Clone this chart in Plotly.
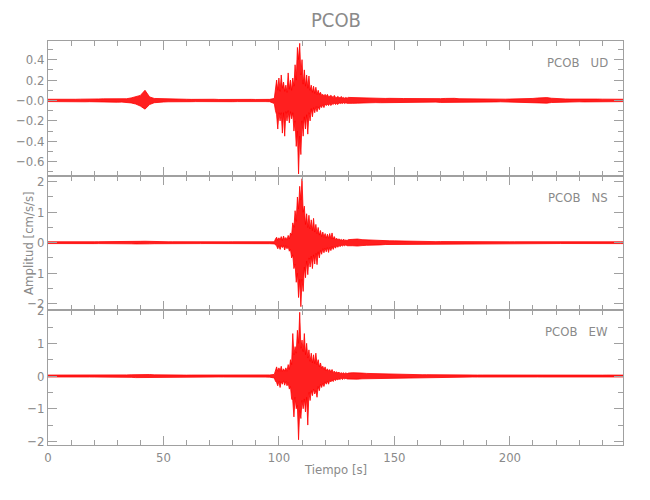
import numpy as np
import plotly.graph_objects as go
from plotly.subplots import make_subplots

# ---------------- data ----------------
STATION = "PCOB"
COMPONENTS = ["UD", "NS", "EW"]

# sample times (s) of the envelope readings: pre-event every 2 s,
# event window every 0.5 s, coda every 2 s
T_PRE = np.arange(0.0, 98.0, 2.0)      # 49 samples
T_EVENT = np.arange(98.0, 130.0, 0.5)  # 64 samples
T_CODA = np.arange(130.0, 251.0, 2.0)  # 61 samples

# upper (max) and lower (min) envelope of each record
UD_PRE_MAX = [0.012, 0.011, 0.012, 0.010, 0.013, 0.011, 0.012, 0.013, 0.012, 0.011,
              0.014, 0.015, 0.016, 0.015, 0.017, 0.016, 0.018, 0.017, 0.025, 0.040,
              0.050, 0.100, 0.035, 0.020, 0.018, 0.015, 0.014, 0.013, 0.012, 0.013,
              0.012, 0.011, 0.012, 0.011, 0.012, 0.011, 0.012, 0.010, 0.011, 0.012,
              0.011, 0.010, 0.011, 0.012, 0.011, 0.010, 0.011, 0.012, 0.011]
UD_PRE_MIN = [-0.011, -0.012, -0.010, -0.012, -0.011, -0.013, -0.011, -0.012, -0.013, -0.012,
              -0.013, -0.015, -0.014, -0.016, -0.015, -0.017, -0.016, -0.018, -0.024, -0.035,
              -0.055, -0.085, -0.040, -0.022, -0.017, -0.015, -0.013, -0.014, -0.012, -0.012,
              -0.011, -0.012, -0.011, -0.012, -0.010, -0.012, -0.011, -0.012, -0.010, -0.011,
              -0.012, -0.011, -0.010, -0.011, -0.012, -0.011, -0.010, -0.011, -0.012]
UD_EVENT_MAX = [0.02, 0.15, 0.20, 0.10, 0.22, 0.09, 0.25, 0.12, 0.18, 0.09,
                0.15, 0.08, 0.27, 0.11, 0.20, 0.10, 0.22, 0.14, 0.35, 0.20,
                0.52, 0.40, 0.56, 0.25, 0.40, 0.16, 0.30, 0.14, 0.25, 0.12,
                0.24, 0.10, 0.15, 0.08, 0.14, 0.07, 0.13, 0.06, 0.10, 0.06,
                0.08, 0.05, 0.06, 0.045, 0.06, 0.04, 0.06, 0.035, 0.04, 0.05,
                0.04, 0.03, 0.05, 0.03, 0.03, 0.04, 0.03, 0.025, 0.04, 0.025,
                0.03, 0.022, 0.03, 0.022]
UD_EVENT_MIN = [-0.03, -0.10, -0.14, -0.28, -0.12, -0.20, -0.12, -0.32, -0.12, -0.35,
                -0.11, -0.20, -0.10, -0.22, -0.11, -0.18, -0.12, -0.30, -0.20, -0.45,
                -0.30, -0.72, -0.35, -0.53, -0.20, -0.35, -0.16, -0.28, -0.14, -0.33,
                -0.12, -0.20, -0.08, -0.16, -0.07, -0.12, -0.06, -0.11, -0.06, -0.09,
                -0.05, -0.07, -0.04, -0.07, -0.035, -0.05, -0.035, -0.05, -0.03, -0.05,
                -0.03, -0.04, -0.025, -0.04, -0.03, -0.04, -0.022, -0.03, -0.025, -0.03,
                -0.022, -0.03, -0.022, -0.028]
UD_CODA_MAX = [0.030, 0.028, 0.027, 0.025, 0.024, 0.022, 0.023, 0.021, 0.020, 0.021,
               0.024, 0.020, 0.019, 0.018, 0.018, 0.017, 0.017, 0.016, 0.016, 0.017,
               0.018, 0.020, 0.024, 0.021, 0.017, 0.016, 0.015, 0.015, 0.014, 0.015,
               0.014, 0.014, 0.013, 0.014, 0.013, 0.014, 0.014, 0.015, 0.016, 0.018,
               0.020, 0.024, 0.027, 0.028, 0.022, 0.018, 0.016, 0.015, 0.014, 0.015,
               0.014, 0.013, 0.014, 0.013, 0.014, 0.013, 0.013, 0.014, 0.013, 0.012,
               0.012]
UD_CODA_MIN = [-0.032, -0.028, -0.026, -0.027, -0.023, -0.024, -0.021, -0.022, -0.021, -0.019,
               -0.022, -0.021, -0.018, -0.019, -0.017, -0.018, -0.016, -0.017, -0.017, -0.016,
               -0.019, -0.022, -0.021, -0.019, -0.016, -0.017, -0.015, -0.014, -0.015, -0.014,
               -0.013, -0.015, -0.014, -0.013, -0.014, -0.013, -0.015, -0.014, -0.017, -0.019,
               -0.022, -0.025, -0.024, -0.026, -0.020, -0.017, -0.015, -0.016, -0.013, -0.014,
               -0.013, -0.014, -0.012, -0.014, -0.013, -0.012, -0.014, -0.012, -0.013, -0.012,
               -0.011]

NS_PRE_MAX = [0.030, 0.028, 0.031, 0.029, 0.030, 0.028, 0.031, 0.030, 0.029, 0.031,
              0.030, 0.032, 0.031, 0.033, 0.032, 0.031, 0.033, 0.034, 0.036, 0.040,
              0.045, 0.048, 0.040, 0.035, 0.032, 0.031, 0.030, 0.031, 0.029, 0.030,
              0.031, 0.029, 0.030, 0.028, 0.030, 0.029, 0.031, 0.029, 0.030, 0.028,
              0.030, 0.029, 0.031, 0.030, 0.029, 0.030, 0.031, 0.030, 0.032]
NS_PRE_MIN = [-0.029, -0.031, -0.028, -0.030, -0.029, -0.031, -0.030, -0.028, -0.031, -0.029,
              -0.031, -0.030, -0.032, -0.031, -0.033, -0.032, -0.034, -0.033, -0.037, -0.041,
              -0.046, -0.045, -0.038, -0.034, -0.031, -0.030, -0.031, -0.029, -0.030, -0.031,
              -0.029, -0.030, -0.028, -0.030, -0.029, -0.031, -0.029, -0.030, -0.028, -0.030,
              -0.029, -0.031, -0.030, -0.029, -0.030, -0.031, -0.029, -0.031, -0.033]
NS_EVENT_MAX = [0.03, 0.12, 0.18, 0.08, 0.16, 0.09, 0.20, 0.08, 0.22, 0.10,
                0.17, 0.09, 0.24, 0.12, 0.32, 0.25, 0.65, 0.50, 1.05, 0.70,
                1.50, 1.10, 1.85, 1.40, 2.10, 1.00, 1.20, 0.60, 0.95, 0.50,
                0.90, 0.45, 0.75, 0.40, 0.80, 0.35, 0.60, 0.30, 0.50, 0.25,
                0.40, 0.20, 0.35, 0.18, 0.30, 0.15, 0.28, 0.14, 0.30, 0.13,
                0.32, 0.12, 0.20, 0.10, 0.15, 0.09, 0.13, 0.08, 0.11, 0.07,
                0.12, 0.07, 0.09, 0.07]
NS_EVENT_MIN = [-0.04, -0.08, -0.10, -0.20, -0.10, -0.22, -0.10, -0.16, -0.10, -0.24,
                -0.10, -0.20, -0.12, -0.28, -0.22, -0.50, -0.40, -0.85, -0.70, -1.30,
                -1.00, -1.80, -1.20, -2.10, -1.20, -1.60, -0.80, -1.15, -0.60, -1.05,
                -0.50, -0.80, -0.45, -0.85, -0.40, -0.70, -0.35, -0.72, -0.30, -0.50,
                -0.25, -0.38, -0.20, -0.33, -0.18, -0.30, -0.16, -0.32, -0.15, -0.26,
                -0.13, -0.22, -0.12, -0.18, -0.10, -0.15, -0.09, -0.13, -0.08, -0.11,
                -0.08, -0.10, -0.07, -0.10]
NS_CODA_MAX = [0.100, 0.110, 0.120, 0.100, 0.090, 0.080, 0.080, 0.070, 0.060, 0.062,
               0.060, 0.055, 0.050, 0.052, 0.045, 0.042, 0.040, 0.041, 0.036, 0.035,
               0.036, 0.034, 0.033, 0.034, 0.032, 0.031, 0.032, 0.030, 0.031, 0.030,
               0.031, 0.030, 0.029, 0.031, 0.030, 0.029, 0.030, 0.031, 0.029, 0.030,
               0.029, 0.030, 0.031, 0.029, 0.030, 0.028, 0.030, 0.029, 0.030, 0.028,
               0.029, 0.030, 0.028, 0.029, 0.030, 0.028, 0.029, 0.028, 0.030, 0.029,
               0.028]
NS_CODA_MIN = [-0.090, -0.100, -0.110, -0.095, -0.085, -0.080, -0.070, -0.072, -0.060, -0.058,
               -0.055, -0.056, -0.050, -0.048, -0.044, -0.043, -0.040, -0.038, -0.037, -0.035,
               -0.034, -0.035, -0.032, -0.033, -0.031, -0.032, -0.030, -0.031, -0.029, -0.031,
               -0.030, -0.029, -0.031, -0.030, -0.029, -0.030, -0.031, -0.029, -0.030, -0.029,
               -0.031, -0.029, -0.030, -0.028, -0.030, -0.029, -0.028, -0.030, -0.029, -0.030,
               -0.028, -0.029, -0.030, -0.028, -0.029, -0.030, -0.028, -0.029, -0.028, -0.030,
               -0.029]

EW_PRE_MAX = [0.030, 0.029, 0.031, 0.028, 0.030, 0.031, 0.029, 0.030, 0.028, 0.031,
              0.030, 0.032, 0.031, 0.033, 0.032, 0.034, 0.033, 0.035, 0.038, 0.045,
              0.052, 0.056, 0.045, 0.036, 0.032, 0.031, 0.030, 0.031, 0.029, 0.030,
              0.028, 0.030, 0.029, 0.031, 0.030, 0.029, 0.030, 0.028, 0.030, 0.029,
              0.031, 0.030, 0.029, 0.030, 0.031, 0.029, 0.030, 0.031, 0.033]
EW_PRE_MIN = [-0.029, -0.031, -0.030, -0.029, -0.031, -0.028, -0.030, -0.029, -0.031, -0.030,
              -0.031, -0.030, -0.032, -0.031, -0.033, -0.032, -0.034, -0.036, -0.040, -0.048,
              -0.055, -0.050, -0.042, -0.035, -0.031, -0.030, -0.029, -0.031, -0.030, -0.029,
              -0.030, -0.029, -0.031, -0.030, -0.028, -0.030, -0.031, -0.029, -0.030, -0.031,
              -0.029, -0.030, -0.031, -0.029, -0.030, -0.031, -0.029, -0.032, -0.034]
EW_EVENT_MAX = [0.05, 0.20, 0.28, 0.14, 0.25, 0.15, 0.30, 0.14, 0.22, 0.15,
                0.25, 0.15, 0.35, 0.20, 0.50, 0.35, 1.30, 0.65, 0.90, 0.70,
                1.40, 1.00, 1.95, 0.85, 1.10, 0.75, 1.30, 0.65, 1.00, 0.55,
                0.80, 0.45, 0.70, 0.40, 0.65, 0.38, 0.70, 0.35, 0.50, 0.28,
                0.40, 0.24, 0.30, 0.20, 0.28, 0.16, 0.22, 0.15, 0.20, 0.12,
                0.20, 0.11, 0.15, 0.10, 0.13, 0.09, 0.12, 0.08, 0.10, 0.08,
                0.10, 0.07, 0.10, 0.07]
EW_EVENT_MIN = [-0.06, -0.16, -0.20, -0.30, -0.16, -0.35, -0.17, -0.25, -0.14, -0.28,
                -0.16, -0.30, -0.20, -0.40, -0.32, -0.70, -0.75, -1.25, -0.65, -1.00,
                -0.90, -1.95, -1.05, -1.30, -0.75, -1.00, -0.70, -1.10, -0.65, -1.50,
                -0.50, -0.75, -0.45, -0.60, -0.40, -0.55, -0.45, -0.65, -0.32, -0.45,
                -0.25, -0.35, -0.22, -0.32, -0.18, -0.25, -0.16, -0.25, -0.13, -0.18,
                -0.12, -0.17, -0.10, -0.14, -0.09, -0.12, -0.08, -0.11, -0.07, -0.11,
                -0.07, -0.09, -0.07, -0.09]
EW_CODA_MAX = [0.090, 0.100, 0.085, 0.090, 0.080, 0.075, 0.070, 0.065, 0.060, 0.058,
               0.055, 0.052, 0.050, 0.048, 0.045, 0.044, 0.040, 0.041, 0.038, 0.036,
               0.035, 0.034, 0.035, 0.033, 0.032, 0.033, 0.031, 0.032, 0.030, 0.031,
               0.030, 0.031, 0.029, 0.030, 0.031, 0.029, 0.030, 0.029, 0.031, 0.030,
               0.029, 0.030, 0.028, 0.030, 0.029, 0.031, 0.029, 0.030, 0.028, 0.029,
               0.030, 0.029, 0.028, 0.030, 0.029, 0.028, 0.030, 0.029, 0.028, 0.029,
               0.028]
EW_CODA_MIN = [-0.100, -0.090, -0.095, -0.085, -0.080, -0.070, -0.068, -0.060, -0.062, -0.055,
               -0.054, -0.050, -0.048, -0.046, -0.045, -0.042, -0.041, -0.038, -0.037, -0.035,
               -0.034, -0.035, -0.033, -0.032, -0.033, -0.031, -0.032, -0.030, -0.031, -0.030,
               -0.029, -0.030, -0.031, -0.029, -0.030, -0.031, -0.029, -0.030, -0.028, -0.030,
               -0.031, -0.029, -0.030, -0.029, -0.028, -0.030, -0.029, -0.028, -0.030, -0.029,
               -0.028, -0.030, -0.029, -0.028, -0.030, -0.029, -0.028, -0.029, -0.030, -0.028,
               -0.029]

# axis ticks / labels
X_TICKS = [0, 50, 100, 150, 200]
UD_TICKS = [-0.6, -0.4, -0.2, 0.0, 0.2, 0.4]
UD_TICKTEXT = ["\u22120.6", "\u22120.4", "\u22120.2", "\u22120.0", "0.2", "0.4"]
NS_TICKS = [-2, -1, 0, 1, 2]
NS_TICKTEXT = ["\u22122", "\u22121", "0", "1", "2"]
EW_TICKS = [-2, -1, 0, 1, 2]
EW_TICKTEXT = ["\u22122", "\u22121", "0", "1", "2"]

X_RANGE = [0, 249]
UD_RANGE = [-0.737, 0.583]
NS_RANGE = [-2.22, 2.2]
EW_RANGE = [-2.11, 2.01]

# ---------------- figure ----------------
t_all = np.concatenate([T_PRE, T_EVENT, T_CODA])
upper = {
    "UD": UD_PRE_MAX + UD_EVENT_MAX + UD_CODA_MAX,
    "NS": NS_PRE_MAX + NS_EVENT_MAX + NS_CODA_MAX,
    "EW": EW_PRE_MAX + EW_EVENT_MAX + EW_CODA_MAX,
}
lower = {
    "UD": UD_PRE_MIN + UD_EVENT_MIN + UD_CODA_MIN,
    "NS": NS_PRE_MIN + NS_EVENT_MIN + NS_CODA_MIN,
    "EW": EW_PRE_MIN + EW_EVENT_MIN + EW_CODA_MIN,
}
ranges = {"UD": UD_RANGE, "NS": NS_RANGE, "EW": EW_RANGE}
ticks = {"UD": (UD_TICKS, UD_TICKTEXT, 0.1), "NS": (NS_TICKS, NS_TICKTEXT, 0.5),
         "EW": (EW_TICKS, EW_TICKTEXT, 0.5)}

FONT = "Liberation Sans Narrow, DejaVu Sans Condensed, Arial Narrow, sans-serif"
AX = "#a0a0a0"
TXT = "#8a8a8a"

fig = make_subplots(rows=3, cols=1, shared_xaxes=True, vertical_spacing=0)

for i, comp in enumerate(COMPONENTS, start=1):
    xs = np.concatenate([t_all, t_all[::-1]])
    ys = np.concatenate([np.array(upper[comp]), np.array(lower[comp])[::-1]])
    fig.add_trace(go.Scatter(x=xs, y=ys, mode="lines", fill="toself",
                             fillcolor="rgba(255,0,0,0.88)",
                             line=dict(color="#ff0000", width=0.8),
                             showlegend=False, hoverinfo="skip"), row=i, col=1)
    tv, tt, mdt = ticks[comp]
    fig.update_yaxes(range=ranges[comp], tickvals=tv, ticktext=tt, automargin=False,
                     ticks="inside", ticklen=9, tickcolor=AX, tickwidth=1,
                     minor=dict(dtick=mdt, ticklen=5, ticks="inside", tickcolor=AX, showgrid=False),
                     showline=True, linecolor=AX, linewidth=1, mirror="allticks",
                     showgrid=False, zeroline=False,
                     tickfont=dict(family=FONT, size=13, color=TXT),
                     row=i, col=1)
    fig.update_xaxes(range=X_RANGE, tickvals=X_TICKS, automargin=False,
                     ticks="inside", ticklen=9, tickcolor=AX, tickwidth=1,
                     minor=dict(dtick=10, tick0=0, ticklen=5, ticks="inside", tickcolor=AX, showgrid=False),
                     showline=True, linecolor=AX, linewidth=1, mirror="allticks",
                     showgrid=False, zeroline=False,
                     tickfont=dict(family=FONT, size=13, color=TXT),
                     row=i, col=1)
    yref = "y" if i == 1 else f"y{i}"
    xref = "x" if i == 1 else f"x{i}"
    fig.add_annotation(text=STATION + "\u00a0\u00a0\u00a0" + comp,
                       xref=f"{xref} domain", yref=f"{yref} domain",
                       x=0.978, y=0.84, xanchor="right", yanchor="middle",
                       showarrow=False, font=dict(family=FONT, size=13, color=TXT))

fig.add_annotation(text="Amplitud [cm/s/s]", xref="paper", yref="paper",
                   x=-0.035, y=0.5, xanchor="center", yanchor="middle", textangle=-90,
                   showarrow=False, font=dict(family=FONT, size=13, color=TXT))
fig.add_annotation(text="Tiempo [s]", xref="paper", yref="paper",
                   x=0.5, y=-0.061, xanchor="center", yanchor="middle",
                   showarrow=False, font=dict(family=FONT, size=13, color=TXT))
fig.add_annotation(text=STATION, xref="paper", yref="paper",
                   x=0.5, y=1 + 21 / 404, xanchor="center", yanchor="middle",
                   showarrow=False, font=dict(family=FONT, size=20, color=TXT))

# the page body adds an 8 px offset, so margins are set 8 px smaller on the left/top
fig.update_layout(
    width=650, height=500,
    margin=dict(l=40, r=35, t=33, b=63),
    paper_bgcolor="white", plot_bgcolor="white",
)

fig.write_html("out.html")
